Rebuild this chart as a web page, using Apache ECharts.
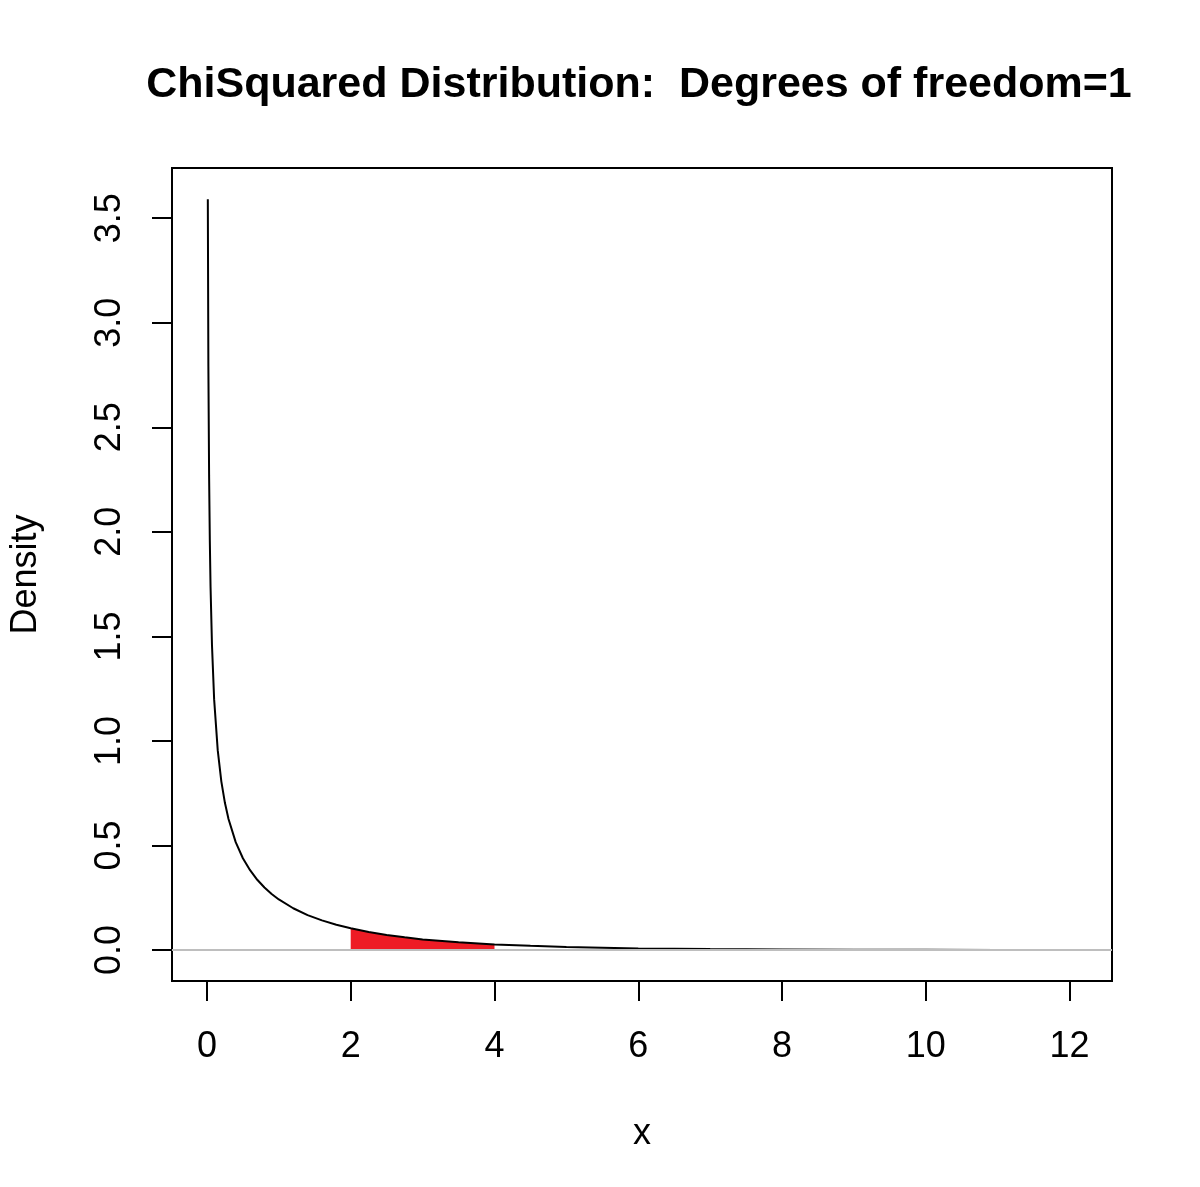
<!DOCTYPE html>
<html>
<head>
<meta charset="utf-8">
<title>ChiSquared Distribution</title>
<script src="https://cdn.jsdelivr.net/npm/echarts@6/dist/echarts.min.js"></script>
<style>
    html, body { margin: 0; padding: 0; background: #fff; }
    #chi_density { width: 1200px; height: 1187px; }
</style>
</head>
<body>
<div id="chi_density"></div>
<script>

// Data
// ------------------------------

var curveX = [0.0123, 0.02, 0.03, 0.04, 0.05, 0.07, 0.1, 0.15, 0.2, 0.25, 0.3, 0.4, 0.5, 0.6,
              0.7, 0.8, 0.9, 1.0, 1.2, 1.4, 1.6, 1.8, 2.0, 2.25, 2.5, 2.75, 3.0, 3.5, 4.0,
              4.5, 5, 6, 7, 8, 9, 10, 11, 12.1];
var curveY = [3.59, 2.79, 2.27, 1.96, 1.74, 1.46, 1.20, 0.956, 0.807, 0.704, 0.627, 0.516, 0.439, 0.382,
              0.336, 0.299, 0.268, 0.242, 0.200, 0.167, 0.142, 0.121, 0.104, 0.086, 0.072, 0.061, 0.051, 0.037, 0.027,
              0.020, 0.015, 0.008, 0.0046, 0.0026, 0.0015, 0.0009, 0.0005, 0.0003];

// shaded tail between these two x values
var shadeFrom = 2;
var shadeTo = 4;

var xTicks = [0, 2, 4, 6, 8, 10, 12];
var yTicks = [0, 0.5, 1, 1.5, 2, 2.5, 3, 3.5];

var titleText = 'ChiSquared Distribution:  Degrees of freedom=1';


// Setup chart
// ------------------------------

var ChiSquaredChart = function() {

    var _chart = function() {
        if (typeof echarts == 'undefined') {
            console.warn('Warning - echarts.min.js is not loaded.');
            return;
        }

        var element = document.getElementById('chi_density');
        if (!element) return;

        var chart = echarts.init(element);

        // Styles
        var fontFamily = '"Liberation Sans", Arial, sans-serif',
            textColor = '#000',
            curveColor = '#000',
            shadeColor = '#ee1c25',
            zeroLineColor = '#bebebe';

        var curveData = curveX.map(function(x, i) { return [x, curveY[i]]; });
        var shadeData = curveData.filter(function(p) {
            return p[0] >= shadeFrom && p[0] <= shadeTo;
        });

        chart.setOption({
            animation: false,

            textStyle: {
                fontFamily: fontFamily,
                color: textColor
            },

            // Title, centred over the plot box
            title: {
                text: titleText,
                left: 634,
                textAlign: 'center',
                top: 59,
                textStyle: {
                    fontFamily: fontFamily,
                    fontSize: 43,
                    fontWeight: 'bold',
                    color: textColor
                }
            },

            grid: {
                left: 171,
                top: 168,
                right: 88,
                bottom: 206,
                show: true,
                borderColor: '#000',
                borderWidth: 2,
                backgroundColor: '#fff'
            },

            xAxis: {
                type: 'value',
                min: -0.486,
                max: 12.59,
                name: 'x',
                nameLocation: 'middle',
                nameGap: 135,
                nameTextStyle: { fontSize: 36, color: textColor, fontFamily: fontFamily },
                axisLine: { show: false, onZero: false },
                axisTick: {
                    show: true,
                    inside: false,
                    length: 20,
                    customValues: xTicks,
                    lineStyle: { color: '#000', width: 2 }
                },
                axisLabel: {
                    customValues: xTicks,
                    margin: 48,
                    fontSize: 36,
                    color: textColor,
                    fontFamily: fontFamily
                },
                splitLine: { show: false }
            },

            yAxis: {
                type: 'value',
                min: -0.148,
                max: 3.74,
                name: 'Density',
                nameLocation: 'middle',
                nameGap: 128,
                nameTextStyle: { fontSize: 36, color: textColor, fontFamily: fontFamily },
                axisLine: { show: false, onZero: false },
                axisTick: {
                    show: true,
                    inside: false,
                    length: 20,
                    customValues: yTicks,
                    lineStyle: { color: '#000', width: 2 }
                },
                axisLabel: {
                    customValues: yTicks,
                    rotate: 90,
                    margin: 44,
                    fontSize: 36,
                    color: textColor,
                    fontFamily: fontFamily,
                    formatter: function(v) { return v.toFixed(1); }
                },
                splitLine: { show: false }
            },

            series: [
                {
                    name: 'zero',
                    type: 'line',
                    data: [],
                    silent: true,
                    z: 1,
                    markLine: {
                        silent: true,
                        symbol: ['none', 'none'],
                        label: { show: false },
                        lineStyle: { color: zeroLineColor, width: 2, type: 'solid' },
                        data: [{ yAxis: 0 }]
                    }
                },
                {
                    name: 'tail',
                    type: 'line',
                    data: shadeData,
                    symbol: 'none',
                    silent: true,
                    z: 2,
                    lineStyle: { width: 0 },
                    areaStyle: { color: shadeColor, opacity: 1 }
                },
                {
                    name: 'density',
                    type: 'line',
                    data: curveData,
                    symbol: 'none',
                    silent: true,
                    z: 3,
                    lineStyle: { color: curveColor, width: 2 }
                }
            ]
        });

        window.addEventListener('resize', function() {
            chart.resize();
        });
    };

    return {
        init: function() {
            _chart();
        }
    }
}();

document.addEventListener('DOMContentLoaded', function() {
    ChiSquaredChart.init();
});
</script>
</body>
</html>
